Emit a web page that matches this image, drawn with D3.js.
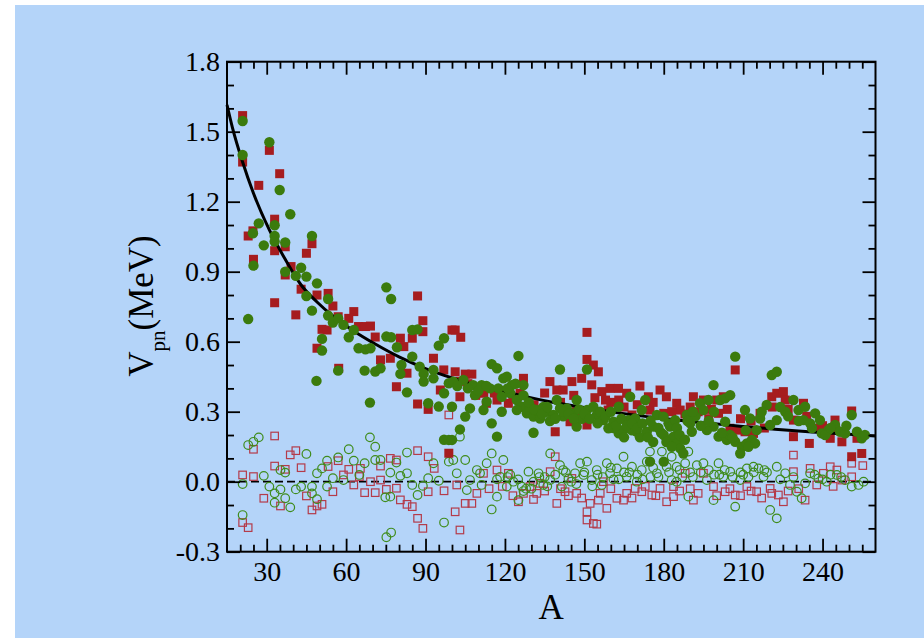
<!DOCTYPE html>
<html>
<head>
<meta charset="utf-8">
<script src="https://cdn.jsdelivr.net/npm/d3@7"></script>
<style>
  html, body { margin: 0; padding: 0; background: #ffffff; }
  svg { display: block; }
  .tick text { font-family: "Liberation Serif", "Times New Roman", serif; }
</style>
</head>
<body>
<svg id="chart" width="924" height="638"></svg>
<script>
// Mass number A and proton-neutron interaction V_pn (MeV)

// Axis ticks
const xMajorTicks = [30, 60, 90, 120, 150, 180, 210, 240];
const xMinorTicks = d3.range(20, 260, 5).filter(v => v % 30 !== 0);
const yMajorTicks = [-0.3, 0.0, 0.3, 0.6, 0.9, 1.2, 1.5, 1.8];
const yTickLabels = ["-0.3", "0.0", "0.3", "0.6", "0.9", "1.2", "1.5", "1.8"];
const yMinorTicks = [-0.2, -0.1, 0.1, 0.2, 0.4, 0.5, 0.7, 0.8, 1.0, 1.1, 1.3, 1.4, 1.6, 1.7];

// Empirical V_pn, even-even nuclei (filled squares)
const redFilled = [
  [20.9,1.569],[20.9,1.37],[31,1.42],[34.9,1.32],[27,1.27],[23,1.053],[24.8,1.075],[25,0.953],
  [33,1.125],[33,0.99],[37,1.007],[47.1,1.02],[45,0.979],[39.2,0.922],[37,0.886],[33,0.767],
  [41,0.715],[43,0.825],[49,0.80],[53.2,0.807],[55,0.753],[57,0.707],[62.9,0.729],[61,0.70],
  [50.9,0.653],[52.8,0.65],[49,0.572],[64.7,0.665],[67.3,0.665],[69.2,0.667],[71,0.62],[73,0.522],
  [76.7,0.529],[80.5,0.615],[81.8,0.579],[85,0.615],[87,0.796],[89,0.69],[89,0.643],[93,0.529],
  [96.9,0.479],[100,0.65],[83,0.465],[79,0.407],[57.2,0.486],[87,0.333],[91,0.31],[95.6,0.393],
  [98.8,0.122],[101.2,0.65],[103.3,0.619],[101.2,0.471],[105,0.461],[107.5,0.461],[103,0.364],
  [110,0.40],[113,0.336],[117,0.35],[121.3,0.336],[127,0.443],[125.7,0.379],[137,0.429],
  [139.6,0.393],[142,0.393],[145.3,0.429],[149,0.443],[151,0.64],[151,0.524],[153.4,0.50],
  [155.3,0.471],[152.8,0.415],[156.6,0.386],[159.7,0.40],[162.9,0.40],[166,0.379],[171,0.41],
  [174.2,0.364],[178.6,0.393],[181,0.364],[139,0.214],[144.6,0.257],[151,0.243],[159,0.307],
  [133.3,0.30],[168,0.286],[174.8,0.307],[180,0.293],[112,0.379],[103,0.43],
  [184.9,0.336],[186.2,0.307],[191.2,0.364],[195,0.35],[200,0.35],[200.7,0.293],[202.5,0.364],
  [205,0.229],[207,0.479],[207.6,0.221],[210.7,0.214],[213.9,0.207],[216.4,0.293],[220.8,0.364],
  [222.7,0.379],[225.2,0.386],[225.9,0.35],[229,0.193],[229,0.264],[232.8,0.336],[235,0.164],
  [242.9,0.186],[244.7,0.264],[247.3,0.171],[251,0.303],[251,0.107],[254.8,0.121],[253,0.186],
  [237.8,0.229],[116,0.38],[131,0.33],[147,0.30],[160,0.34],[170,0.33],[188,0.29],[197,0.27],
  [213,0.26],[218,0.23],[240,0.24],
  [106,0.42],[109,0.37],[119,0.39],[123,0.36],[135,0.38],[141,0.34],[146,0.37],[154,0.36],
  [158,0.35],[163,0.35],[165,0.32],[176,0.34],[183,0.30],[190,0.32],[193,0.30],[198,0.31],
  [204,0.31],[209,0.27],[221,0.32],[227,0.31],[234,0.28],[245,0.22]
];

// Empirical V_pn, odd-mass nuclei (filled circles)
const greenFilled = [
  [20.9,1.546],[20.9,1.40],[31,1.455],[34.9,1.25],[38.9,1.146],[27,1.107],[24.8,1.065],[28.9,1.013],
  [33,1.099],[33,1.053],[33,1.029],[37,1.025],[47.1,1.053],[25,0.926],[23,0.697],[37,0.90],
  [41,0.882],[43,0.917],[45,0.879],[49,0.85],[45,0.796],[53.2,0.783],[47.1,0.733],[53.2,0.712],
  [55,0.682],[57,0.70],[59,0.672],[62.9,0.65],[61,0.619],[50.9,0.612],[50.9,0.562],[48.8,0.432],
  [57,0.476],[64.7,0.572],[67.3,0.567],[69.2,0.572],[67,0.476],[71,0.472],[73,0.486],[69,0.339],
  [75.2,0.833],[77,0.783],[75.2,0.622],[77,0.619],[79.2,0.576],[80.9,0.50],[80.5,0.462],[83,0.383],
  [85,0.65],[87,0.653],[85,0.536],[87.8,0.493],[89.3,0.462],[89.3,0.429],[91,0.336],[93,0.479],
  [93,0.443],[95,0.583],[97,0.615],[97,0.379],[95,0.322],[98.8,0.422],[97,0.18],[98.8,0.179],
  [100.5,0.429],[104.3,0.436],[108,0.414],[111.2,0.414],[114.4,0.40],[117.5,0.40],[119.4,0.443],
  [120.7,0.45],[122.6,0.414],[125.1,0.539],[115,0.504],[117,0.486],[127,0.414],[122,0.379],
  [118.8,0.364],[113.1,0.343],[108.7,0.371],[106.8,0.314],[105,0.279],[103,0.224],[100,0.321],
  [100,0.179],[115,0.25],[117,0.193],[118.8,0.30],[124.5,0.35],[126.4,0.321],[128.3,0.293],
  [130.8,0.279],[133.3,0.271],[135.8,0.30],[138.3,0.286],[140.8,0.314],[140.8,0.481],[143.4,0.314],
  [145.9,0.293],[147.1,0.35],[147.1,0.236],[151,0.481],[151,0.307],[153.4,0.321],[154.7,0.286],
  [157.2,0.264],[159.1,0.229],[161,0.257],[163,0.207],[163,0.321],[164.8,0.221],[166.7,0.264],
  [167.3,0.364],[169.2,0.271],[169.8,0.214],[171.7,0.307],[173,0.35],[173.6,0.214],[176.1,0.236],
  [177.4,0.286],[179.9,0.279],[181.8,0.25],[182.4,0.179],[174.8,0.086],[180,0.086],[129.5,0.321],
  [132,0.307],[130.8,0.21],[139.6,0.35],[124.5,0.307],[111.9,0.307],
  [182.4,0.236],[183.7,0.193],[184.9,0.164],[186.2,0.143],[187.4,0.121],[184.3,0.264],[188.7,0.286],
  [190,0.25],[190.6,0.214],[193.7,0.336],[195,0.307],[196.9,0.35],[198.8,0.414],[201.3,0.35],
  [203.2,0.357],[205.1,0.371],[207,0.536],[203.2,0.257],[198.8,0.236],[196.3,0.221],[200.7,0.193],
  [203.8,0.179],[207,0.171],[209.5,0.15],[211.4,0.164],[213.3,0.179],[214.5,0.164],[208.9,0.121],
  [210.7,0.307],[212.6,0.271],[215.1,0.221],[216.4,0.271],[218.9,0.329],[220.8,0.457],[222.7,0.471],
  [220.2,0.243],[222.7,0.264],[225.9,0.30],[229,0.35],[230.9,0.307],[233.4,0.321],[232.8,0.264],
  [235.3,0.25],[237.2,0.293],[239,0.264],[239.7,0.207],[242.2,0.221],[244.7,0.243],[246.6,0.214],
  [248.5,0.207],[251,0.286],[253,0.214],[254.8,0.186],
  [134.5,0.32],[137,0.26],[142,0.28],[149,0.27],[156,0.30],[161,0.23],[165,0.19],[168,0.22],
  [171,0.19],[176,0.17],[179,0.21],[185,0.23],[192,0.28],[194,0.24],[205,0.20],[211,0.22],
  [102,0.41],[106,0.40],[110,0.39],[113,0.41],[121,0.40],[124,0.42],[127,0.37],[129,0.34],
  [131,0.31],[134,0.29],[136,0.32],[139,0.27],[142,0.30],[144,0.29],[146,0.27],[148,0.31],
  [150,0.29],[152,0.27],[155,0.25],[158,0.28],[160,0.30],[162,0.24],[164,0.27],[166,0.24],
  [168,0.25],[170,0.23],[172,0.25],[174,0.19],[175,0.26],[178,0.23],[180,0.20],[181,0.17],
  [183,0.15],[186,0.20],[188,0.18],[189,0.26],[191,0.30],[197,0.26],[199,0.30],[202,0.21],
  [206,0.19],[212,0.15],[217,0.30],[224,0.32],[227,0.28],[231,0.26],[236,0.23],[241,0.20],
  [243,0.23],[249,0.24],[256,0.20]
];

// Residuals, even-even (open squares)
const redOpen = [
  [20.9,0.029],[20.9,-0.175],[23,-0.197],[25,0.139],[25,0.022],[33,0.196],[33,0.067],[37,0.053],
  [35.2,-0.104],[28.9,-0.071],[38.9,0.115],[41,0.133],[43,0.06],[45,-0.061],[47.1,-0.121],
  [49,-0.104],[50.9,-0.097],[53.2,0.065],[55,-0.043],[57,0.09],[61,0.053],[62.9,-0.014],[67,-0.047],
  [71,-0.047],[73,0.067],[73,0.007],[75.2,-0.033],[76.7,0.10],[79,0.093],[79,-0.028],[80.5,-0.078],
  [83,-0.097],[85,-0.107],[87,0.133],[87,-0.157],[89,-0.20],[91,0.107],[91,-0.043],[93.3,0.057],
  [97,-0.039],[98.8,0.286],[59,0.029],[65,0.022],[69.2,0.0],[65.4,0.057],
  [101.2,-0.129],[103,-0.207],[105,-0.093],[107.5,-0.093],[109.4,-0.05],[111.9,0.036],[117,0.05],
  [121.3,0.036],[125.1,-0.086],[129.5,-0.021],[130.8,-0.076],[133.3,-0.007],[137.1,0.043],
  [139,0.107],[139.6,-0.093],[142.7,-0.043],[147.1,-0.05],[151,-0.129],[151,-0.164],[153.4,-0.179],
  [154.7,-0.182],[152.2,-0.093],[155.3,-0.079],[158.5,-0.114],[162.3,-0.071],[164.8,-0.079],
  [169.2,-0.029],[171.7,-0.043],[175.5,-0.057],[178.6,-0.029],[181.1,-0.086],[183.7,-0.064],
  [145.3,0.014],[157.2,0.0],[101.8,-0.014],
  [183.7,-0.021],[188.1,0.036],[191.2,-0.079],[195,0.036],[198.8,-0.021],[203.2,-0.043],[207,-0.057],
  [211.4,-0.021],[215.1,-0.043],[220.2,-0.029],[223.3,-0.057],[225.2,-0.086],[220.8,-0.05],
  [229,0.114],[229,0.043],[233.4,-0.079],[235.3,0.057],[240.3,0.036],[242.9,0.064],[245.4,0.05],
  [247.3,0.007],[251,0.079],[251,0.021],[255.2,0.069],[237.8,-0.014],
  [114,-0.03],[127,-0.05],[135,-0.04],[144,-0.06],[160,-0.03],[166,-0.05],[186,-0.04],[200,-0.06],
  [217,-0.07],[231,-0.03],
  [119,-0.02],[123,-0.06],[132,-0.05],[141,-0.03],[149,-0.07],[156,-0.05],[168,-0.07],[173,-0.02],
  [177,-0.06],[190,-0.03],[193,-0.05],[205,-0.03],[209,-0.06],[213,-0.04],[227,-0.04],[244,-0.02]
];

// Residuals, odd-mass (open circles)
const greenOpen = [
  [23,0.157],[25,0.171],[27,0.19],[20.9,-0.01],[20.9,-0.143],[28.9,0.025],[31,-0.021],[33,-0.05],
  [35.2,-0.033],[33,-0.09],[37,-0.071],[38.9,-0.11],[35.2,0.05],[37,0.039],[41,-0.033],[45,0.119],
  [43,-0.021],[47.1,-0.021],[47.1,-0.05],[49,-0.075],[49,0.036],[50.9,0.057],[52.8,0.09],
  [52.8,-0.021],[55,0.015],[57,0.104],[59,0.007],[61,0.139],[62.9,0.09],[65,0.029],[67,0.079],
  [69,0.19],[71,0.15],[71,0.093],[73,0.093],[74.8,-0.067],[75.2,-0.238],[77,-0.218],[76.7,0.039],
  [79,0.082],[80.5,0.025],[83,0.125],[83,0.036],[85,-0.014],[87,-0.057],[89,-0.018],[91,0.015],
  [93,0.079],[95,0.004],[97,-0.175],[98.8,0.086],[76.7,-0.064],
  [103,0.193],[100.5,0.093],[105,0.093],[101.8,0.036],[106.8,0.007],[109.4,0.05],[111.2,-0.014],
  [113.1,0.079],[115,0.121],[115,-0.119],[117,-0.064],[118.2,0.021],[119.4,0.093],[120.7,-0.021],
  [123.2,0.0],[125.1,-0.079],[126.4,-0.021],[128.9,0.043],[130.8,0.0],[132.7,0.036],[134.5,-0.014],
  [137.1,0.121],[137.1,0.007],[140.8,0.071],[141.5,-0.021],[144,0.014],[146.5,0.036],[148.4,0.079],
  [149.7,0.029],[151,0.086],[152.8,0.007],[154.7,0.05],[156.6,-0.014],[158.5,0.079],[159.7,0.036],
  [162.3,0.057],[164.8,0.107],[166,0.021],[168,0.064],[169.8,0.0],[171.7,0.05],[173.6,0.086],
  [174.8,0.129],[177.4,0.036],[179.3,0.129],[181.1,0.064],[183,0.007],[110.6,0.036],[105.6,-0.036],
  [183,0.107],[184.9,0.064],[188.1,0.079],[189.3,0.129],[189.3,-0.064],[192.5,0.071],[195,0.079],
  [196.3,0.007],[198.8,-0.079],[200.7,0.079],[202.5,0.021],[205.1,0.043],[207,-0.107],[208.9,0.007],
  [211.4,0.057],[213.9,0.064],[215.8,0.057],[217.7,0.021],[220.2,-0.121],[222.7,-0.157],[222.7,0.064],
  [225.9,0.036],[227.7,-0.014],[230.3,-0.043],[232.1,-0.071],[233.4,-0.007],[235.3,0.036],
  [238.4,0.014],[241.6,0.0],[245.4,0.029],[248.5,0.007],[251,-0.021],[253.6,-0.014],[255.5,0.0],
  [184.9,0.0],
  [122,0.03],[128,-0.03],[135,0.02],[143,0.04],[147,-0.01],[155,0.03],[161,0.01],[167,0.04],
  [175,0.02],[187,0.02],[194,0.04],[201,0.03],[209,0.04],[218,0.05],[243,0.03],
  [117,0.01],[121,0.02],[125,0.01],[127,-0.04],[130,-0.03],[133,0.02],[136,-0.02],[139,0.03],
  [142,0.05],[145,0.00],[150,0.04],[153,-0.02],[157,0.02],[160,0.06],[163,0.01],[165,0.04],
  [170,0.03],[172,0.01],[176,0.06],[178,0.02],[182,0.04],[186,0.05],[190,0.04],[191,0.02],
  [197,0.05],[199,0.03],[203,0.05],[206,0.02],[210,0.03],[212,0.02],[214,0.04],[219,0.04],
  [224,0.01],[229,0.02],[237,0.03],[240,0.01],[247,0.02]
];

// Smooth systematics curve through the data
const fitCurve = [
  [15,1.615],[17,1.52],[20.9,1.37],[25,1.236],[31,1.079],[37,0.953],[43,0.843],[49,0.77],
  [55,0.71],[63,0.645],[71,0.59],[80,0.535],[90,0.485],[100,0.445],[112,0.405],[124,0.375],
  [136,0.345],[150,0.318],[162,0.296],[175,0.277],[190,0.258],[207,0.24],[222,0.225],[236,0.213],
  [250,0.203],[260,0.196]
];

const RED = "#a61c1f";
const GREEN = "#3b7b0d";
const RED_OPEN = "#b43b4a";
const GREEN_OPEN = "#3f8c1c";

const svg = d3.select("#chart");

// page background
svg.append("rect").attr("x", 15).attr("y", 5).attr("width", 909).attr("height", 633)
  .attr("fill", "#b4d4f9");

const plotLeft = 227, plotRight = 875.5, plotTop = 61.7, plotBottom = 551.7;
const x = d3.scaleLinear().domain([15, 260]).range([plotLeft, plotRight]);
const y = d3.scaleLinear().domain([-0.3, 1.8]).range([plotBottom, plotTop]);

const plot = svg.append("g");

// zero reference line
plot.append("line")
  .attr("x1", plotLeft).attr("x2", plotRight).attr("y1", y(0)).attr("y2", y(0))
  .attr("stroke", "#000").attr("stroke-width", 1.8).attr("stroke-dasharray", "8,4");

// open squares
const so = 7.5;
plot.append("g").selectAll("rect").data(redOpen).join("rect")
  .attr("x", d => x(d[0]) - so / 2).attr("y", d => y(d[1]) - so / 2)
  .attr("width", so).attr("height", so)
  .attr("fill", "none").attr("stroke", RED_OPEN).attr("stroke-width", 1.2);

// open circles
plot.append("g").selectAll("circle").data(greenOpen).join("circle")
  .attr("cx", d => x(d[0])).attr("cy", d => y(d[1])).attr("r", 4.3)
  .attr("fill", "none").attr("stroke", GREEN_OPEN).attr("stroke-width", 1.2);

// filled squares
const sf = 9;
plot.append("g").selectAll("rect").data(redFilled).join("rect")
  .attr("x", d => x(d[0]) - sf / 2).attr("y", d => y(d[1]) - sf / 2)
  .attr("width", sf).attr("height", sf)
  .attr("fill", RED);

// curve
const line = d3.line().x(d => x(d[0])).y(d => y(d[1])).curve(d3.curveMonotoneX);
plot.append("path").datum(fitCurve)
  .attr("d", line).attr("fill", "none").attr("stroke", "#000").attr("stroke-width", 3);

// filled circles
plot.append("g").selectAll("circle").data(greenFilled).join("circle")
  .attr("cx", d => x(d[0])).attr("cy", d => y(d[1])).attr("r", 5.2)
  .attr("fill", GREEN);

// axes with inward ticks on all four sides
function styleAxis(g) {
  g.select(".domain").remove();
  g.selectAll(".tick line").attr("stroke", "#000").attr("stroke-width", 1.8);
  g.selectAll(".tick text").attr("fill", "#000");
}

svg.append("g").attr("transform", `translate(0,${plotBottom})`)
  .call(d3.axisBottom(x).tickValues(xMajorTicks).tickSizeInner(-13).tickSizeOuter(0)
    .tickPadding(9).tickFormat(d3.format("d")))
  .call(styleAxis)
  .call(g => g.selectAll(".tick text").attr("font-size", 28));
svg.append("g").attr("transform", `translate(0,${plotBottom})`)
  .call(d3.axisBottom(x).tickValues(xMinorTicks).tickSizeInner(-7).tickSizeOuter(0).tickFormat(""))
  .call(styleAxis);
svg.append("g").attr("transform", `translate(0,${plotTop})`)
  .call(d3.axisTop(x).tickValues(xMajorTicks).tickSizeInner(-13).tickSizeOuter(0).tickFormat(""))
  .call(styleAxis);
svg.append("g").attr("transform", `translate(0,${plotTop})`)
  .call(d3.axisTop(x).tickValues(xMinorTicks).tickSizeInner(-7).tickSizeOuter(0).tickFormat(""))
  .call(styleAxis);

svg.append("g").attr("transform", `translate(${plotLeft},0)`)
  .call(d3.axisLeft(y).tickValues(yMajorTicks).tickSizeInner(-13).tickSizeOuter(0)
    .tickPadding(7).tickFormat((d, i) => yTickLabels[i]))
  .call(styleAxis)
  .call(g => g.selectAll(".tick text").attr("font-size", 28));
svg.append("g").attr("transform", `translate(${plotLeft},0)`)
  .call(d3.axisLeft(y).tickValues(yMinorTicks).tickSizeInner(-7).tickSizeOuter(0).tickFormat(""))
  .call(styleAxis);
svg.append("g").attr("transform", `translate(${plotRight},0)`)
  .call(d3.axisRight(y).tickValues(yMajorTicks).tickSizeInner(-13).tickSizeOuter(0).tickFormat(""))
  .call(styleAxis);
svg.append("g").attr("transform", `translate(${plotRight},0)`)
  .call(d3.axisRight(y).tickValues(yMinorTicks).tickSizeInner(-7).tickSizeOuter(0).tickFormat(""))
  .call(styleAxis);

// frame
svg.append("rect").attr("x", plotLeft).attr("y", plotTop)
  .attr("width", plotRight - plotLeft).attr("height", plotBottom - plotTop)
  .attr("fill", "none").attr("stroke", "#000").attr("stroke-width", 2);

// axis titles
const serif = "'Liberation Serif', 'Times New Roman', serif";
svg.append("text")
  .attr("x", (plotLeft + plotRight) / 2).attr("y", 619)
  .attr("text-anchor", "middle").attr("font-family", serif).attr("font-size", 35)
  .attr("fill", "#000").text("A");

const yTitle = svg.append("text")
  .attr("transform", "translate(153,306) rotate(-90)")
  .attr("text-anchor", "middle").attr("font-family", serif).attr("font-size", 35)
  .attr("fill", "#000");
yTitle.append("tspan").text("V");
yTitle.append("tspan").attr("font-size", 21).attr("dy", 12).text("pn");
yTitle.append("tspan").attr("dy", -12).text("(MeV)");
</script>
</body>
</html>
